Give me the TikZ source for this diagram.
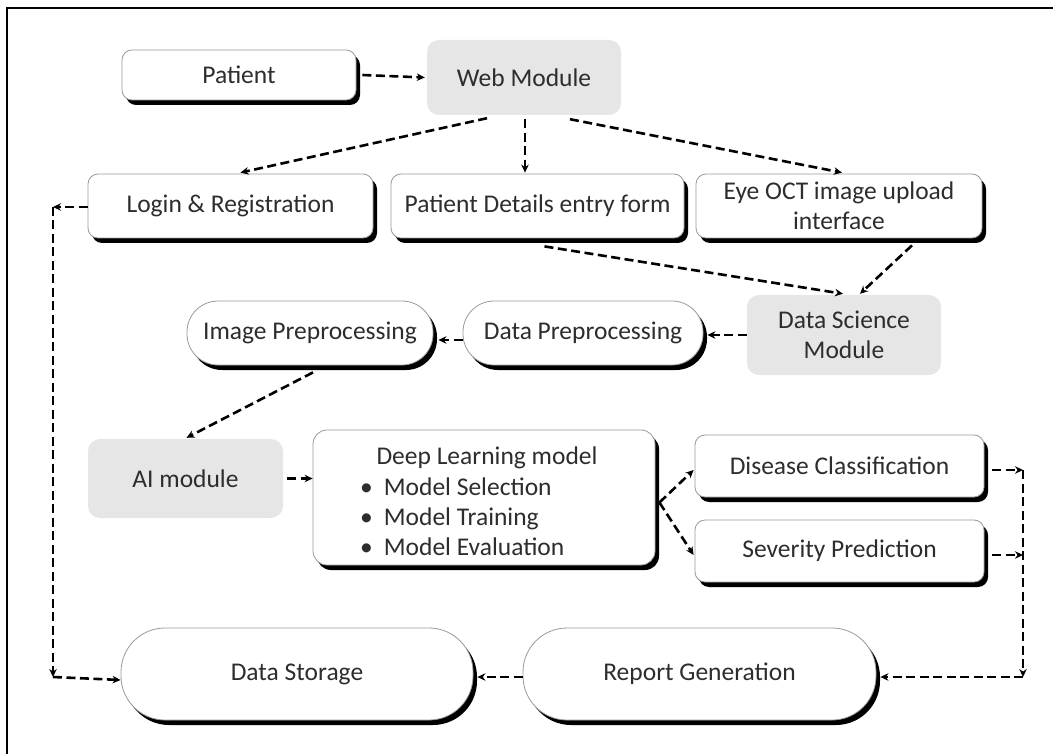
\documentclass[tikz,border=0pt]{standalone}
\usepackage{fontspec}
\setmainfont{Carlito}
\usetikzlibrary{shadows,arrows.meta}
\definecolor{boxgray}{RGB}{230,230,230}
\definecolor{txt}{RGB}{45,45,45}
\begin{document}
\begin{tikzpicture}[x=1pt,y=-1pt,
  every node/.style={font=\fontsize{25.5}{30}\selectfont, text=txt, inner sep=0pt, align=center},
  shad/.style={drop shadow={shadow xshift=4pt, shadow yshift=-5pt, fill=black, opacity=1}},
  wbox/.style={draw=black!40, line width=0.8pt, fill=white, rounded corners=10pt, shad},
  stad/.style={draw=black!40, line width=0.8pt, fill=white, rounded corners=31pt, shad},
  bigstad/.style={draw=black!40, line width=0.8pt, fill=white, rounded corners=44pt, shad},
  gbox/.style={fill=boxgray, rounded corners=12pt},
  arr/.style={line width=2.6pt, dash pattern=on 9pt off 4.5pt, -{Stealth[length=8pt,width=7.5pt]}}
]
\useasboundingbox (0,0) rectangle (1053,754);
\draw[line width=2.5pt] (7,754) -- (7,8) -- (1053,8);

% nodes
\node[wbox, minimum width=234pt, minimum height=50pt] (patient) at (239,75) {Patient};
\node[gbox, minimum width=194pt, minimum height=75pt] (web) at (524,77.5) {Web Module};
\node[wbox, minimum width=285pt, minimum height=64pt] (login) at (230.5,206) {Login \& Registration};
\node[wbox, minimum width=293pt, minimum height=64pt] (details) at (537.5,206) {Patient Details entry form};
\node[wbox, minimum width=286pt, minimum height=64pt] (eyeoct) at (839,206) {Eye OCT image upload\\interface};
\node[gbox, minimum width=194pt, minimum height=80pt] (dsm) at (844,335) {Data Science\\Module};
\node[stad, minimum width=240pt, minimum height=64pt] (dp) at (583,333) {Data Preprocessing};
\node[stad, minimum width=246pt, minimum height=64pt] (ip) at (310,333) {Image Preprocessing};
\node[gbox, minimum width=195pt, minimum height=79pt] (ai) at (185.5,478.5) {AI module};
\node[wbox, rounded corners=14pt, minimum width=342pt, minimum height=135pt] (dl) at (484,497.5) {};
\node (dlhead) at (487,458) {Deep Learning model};
\node[anchor=west, align=left] (dllist) at (360,517) {\textbullet\hspace{11pt}Model Selection\\\textbullet\hspace{11pt}Model Training\\\textbullet\hspace{11pt}Model Evaluation};
\node[wbox, minimum width=289pt, minimum height=62pt] (dc) at (839.5,466) {Disease Classification};
\node[wbox, minimum width=289pt, minimum height=62pt] (sp) at (839.5,551) {Severity Prediction};
\node[bigstad, minimum width=352pt, minimum height=92pt] (ds) at (297,674) {Data Storage};
\node[bigstad, minimum width=353pt, minimum height=92pt] (rg) at (699.5,674) {Report Generation};

\coordinate (rt1) at (1023,470);
\coordinate (rt2) at (1023,555);
\coordinate (rtb) at (1023,677);
\coordinate (lt) at (53,207);
\coordinate (lb) at (53,677);

% connectors
\draw[arr] ([xshift=6pt]patient.east) -- ([xshift=-2pt]web.west);
\draw[arr] ([shift={(-37,3)}]web.south) -- ([shift={(10,-1)}]login.north);
\draw[arr] ([shift={(1,4)}]web.south) -- ([shift={(-12.5,-1)}]details.north);
\draw[arr] ([shift={(46,4)}]web.south) -- ([shift={(3,-1)}]eyeoct.north);
\draw[arr] ([shift={(7,8)}]details.south) -- ([shift={(-1,-1)}]dsm.north);
\draw[arr] ([shift={(73,7)}]eyeoct.south) -- ([shift={(16,-1)}]dsm.north);
\draw[arr] (dsm.west) -- ([xshift=4pt]dsm.west -| dp.east);
\draw[arr] ([yshift=-7pt]dp.west) -- ([shift={(5,7)}]ip.east);
\draw[arr] ([shift={(3,7)}]ip.south) -- ([shift={(1,-1)}]ai.north);
\draw[arr] ([xshift=4pt]ai.east) -- (ai.east -| dl.west);
\draw[arr] ([shift={(4,5)}]dl.east) -- ([shift={(-1,4)}]dc.west);
\draw[arr] ([shift={(4,5)}]dl.east) -- ([shift={(-1,4)}]sp.west);
\draw[arr] ([shift={(8,4)}]dc.east) -- (rt1);
\draw[arr] ([shift={(8,4)}]sp.east) -- (rt2);
\draw[arr] (rt1) -- (rtb);
\draw[arr] (rtb) -- ([xshift=4pt]rtb -| rg.east);
\draw[arr] ([yshift=-3pt]rg.west) -- ([shift={(4,3)}]ds.east);
\draw[arr] ([yshift=-1pt]login.west) -- (lt);
\draw[arr] (lt) -- (lb);
\draw[arr] (lb) -- ([yshift=-3pt]lb -| ds.west);
\end{tikzpicture}
\end{document}
